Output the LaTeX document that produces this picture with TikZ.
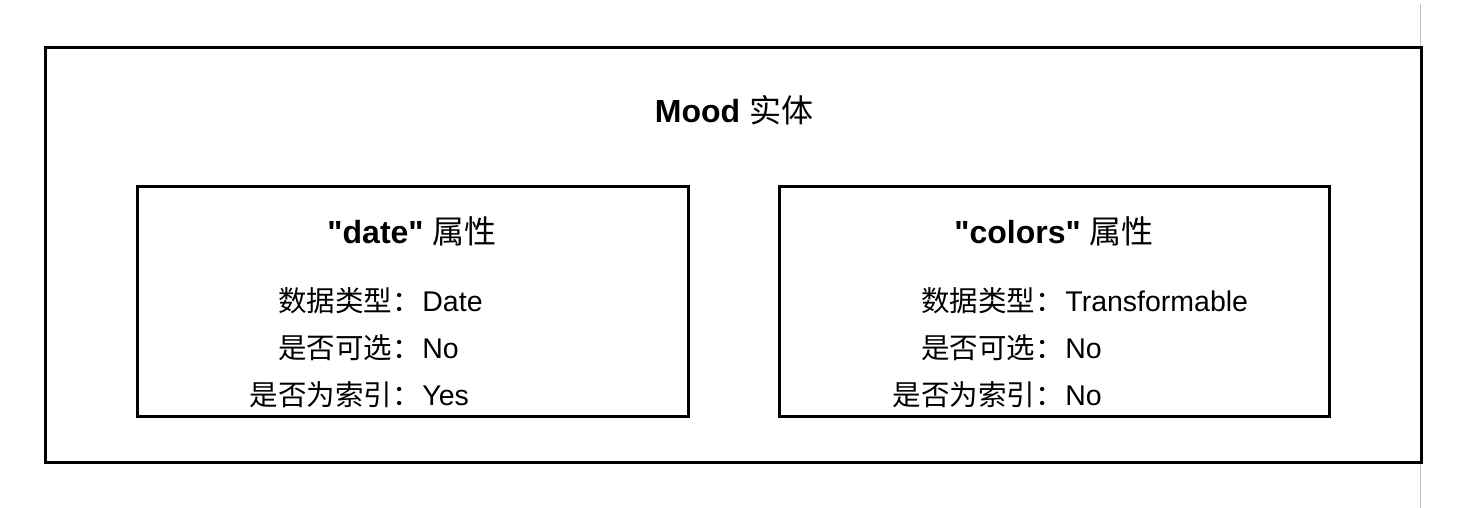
\documentclass[tikz,border=0pt]{standalone}
\usepackage{fontspec}
\setmainfont{Liberation Sans}
\newfontfamily\cjk{Noto Sans CJK SC}

\begin{document}
\begin{tikzpicture}[x=0.5pt, y=-0.5pt,
  box/.style={draw, line width=1.5pt},
  title/.style={font=\fontsize{16}{19}\selectfont, inner sep=0pt, anchor=base},
  key/.style={font=\fontsize{14.25}{17}\selectfont\cjk, inner sep=0pt, anchor=base east},
  val/.style={font=\fontsize{14.25}{17}\selectfont, inner sep=0pt, anchor=base west}]
  \useasboundingbox (0,0) rectangle (1467,508);
  % Page edge
  \draw[line width=0.5pt, black!25] (1420,4) -- (1420,508);
  % Entity
  \draw[box] (45,48) rectangle (1421,462);
  \node[title] (mood) at (734,123) {\bfseries Mood {\mdseries\cjk 实体}};
  % Attribute: date
  \draw[box] (137,186) rectangle (688,416);
  \node[title] (date) at (412,243) {\bfseries \textquotedbl date\textquotedbl{} {\mdseries\cjk 属性}};
  \node[key] (dtype) at (421,311) {数据类型：};
  \node[val] (dtypev) at (422,311) {Date};
  \node[key] (dopt) at (421,358) {是否可选：};
  \node[val] (doptv) at (422,358) {No};
  \node[key] (didx) at (421,405) {是否为索引：};
  \node[val] (didxv) at (422,405) {Yes};
  % Attribute: colors
  \draw[box] (779,186) rectangle (1329,416);
  \node[title] (colors) at (1054,243) {\bfseries \textquotedbl colors\textquotedbl{} {\mdseries\cjk 属性}};
  \node[key] (ctype) at (1064,311) {数据类型：};
  \node[val] (ctypev) at (1065,311) {Transformable};
  \node[key] (copt) at (1064,358) {是否可选：};
  \node[val] (coptv) at (1065,358) {No};
  \node[key] (cidx) at (1064,405) {是否为索引：};
  \node[val] (cidxv) at (1065,405) {No};
\end{tikzpicture}
\end{document}
